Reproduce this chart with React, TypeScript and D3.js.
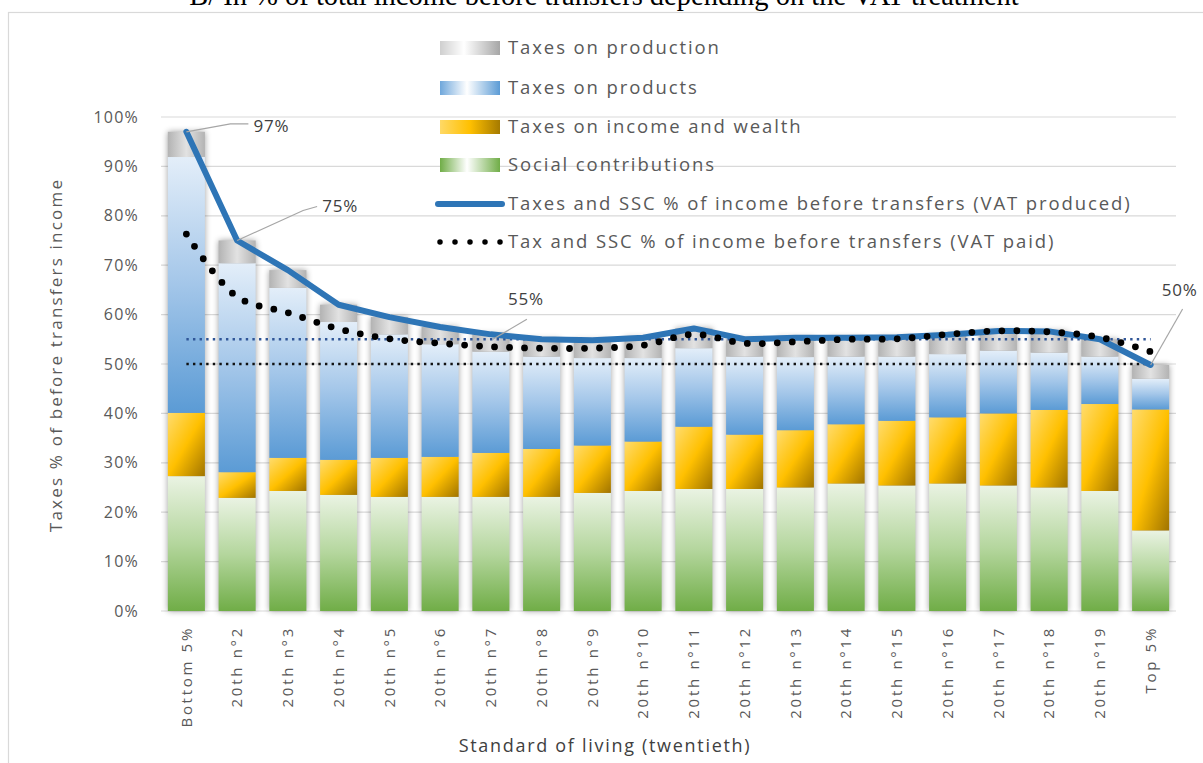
import React from 'react';
import * as d3 from 'd3';

// ---------- data ----------
const categories = [
  'Bottom 5%', '20th n°2', '20th n°3', '20th n°4', '20th n°5', '20th n°6', '20th n°7',
  '20th n°8', '20th n°9', '20th n°10', '20th n°11', '20th n°12', '20th n°13', '20th n°14',
  '20th n°15', '20th n°16', '20th n°17', '20th n°18', '20th n°19', 'Top 5%',
];
const socialContributions = [27.3, 22.9, 24.3, 23.5, 23.1, 23.1, 23.1, 23.1, 23.9, 24.3, 24.7, 24.7, 25.0, 25.8, 25.4, 25.8, 25.4, 25.0, 24.3, 16.3];
const taxesIncomeWealth = [12.8, 5.2, 6.7, 7.1, 7.9, 8.1, 8.9, 9.7, 9.6, 10.0, 12.6, 11.0, 11.6, 12.0, 13.1, 13.4, 14.6, 15.7, 17.6, 24.5];
const taxesProducts = [51.8, 42.3, 34.4, 27.9, 25.0, 22.8, 20.5, 18.7, 17.7, 16.9, 15.9, 15.8, 14.8, 13.7, 13.0, 12.8, 12.7, 11.6, 9.6, 6.2];
const taxesProduction = [5.1, 4.6, 3.6, 3.5, 3.5, 3.5, 3.5, 3.5, 3.6, 4.1, 4.0, 3.5, 3.9, 3.8, 3.9, 3.9, 4.0, 4.3, 3.5, 2.8];
const vatProduced = [97, 75, 69, 62, 59.5, 57.5, 56, 55, 54.8, 55.3, 57.2, 55, 55.3, 55.3, 55.4, 55.9, 56.7, 56.6, 55.0, 49.8];
const vatPaid = [76.3, 63.6, 60.4, 57.1, 55.1, 54.2, 53.5, 53.2, 53.2, 53.8, 56.0, 54.2, 54.5, 55.0, 55.1, 56.0, 56.7, 56.5, 55.4, 52.5];
const refProduced = 55;
const refPaid = 50;
const yTicks = [0, 10, 20, 30, 40, 50, 60, 70, 80, 90, 100];
const seriesNames = [
  'Taxes on production',
  'Taxes on products',
  'Taxes on income and wealth',
  'Social contributions',
  'Taxes and SSC % of income before transfers (VAT produced)',
  'Tax and SSC % of income before transfers (VAT paid)',
];
const titleText = 'B/ In % of total income before transfers depending on the VAT treatment';
const yTitle = 'Taxes % of before transfers income';
const xTitle = 'Standard of living (twentieth)';

// ---------- layout ----------
const W = 1203;
const H = 763;
const plot = { left: 161, right: 1176, top: 117, bottom: 611 };
const FONT = "'Open Sans', 'Noto Sans', sans-serif";

const keys = ['social', 'income', 'products', 'production'];
const gradIds: Record<string, string> = {
  social: 'gGreen',
  income: 'gYellow',
  products: 'gBlue',
  production: 'gGray',
};

export default function App() {
  const x = d3.scaleBand<string>().domain(categories).range([plot.left, plot.right]).paddingInner(0.27).paddingOuter(0.135);
  const y = d3.scaleLinear().domain([0, 100]).range([plot.bottom, plot.top]);
  const cx = (i: number) => (x(categories[i]) as number) + x.bandwidth() / 2;

  const table = categories.map((c, i) => ({
    cat: c,
    social: socialContributions[i],
    income: taxesIncomeWealth[i],
    products: taxesProducts[i],
    production: taxesProduction[i],
  }));
  const stacked = d3.stack<any>().keys(keys)(table);
  const totals = table.map((d) => d.social + d.income + d.products + d.production);

  const lineProduced = d3.line<number>().x((_, i) => cx(i)).y((v) => y(v)).curve(d3.curveLinear)(vatProduced) as string;
  const linePaid = d3.line<number>().x((_, i) => cx(i)).y((v) => y(v)).curve(d3.curveCatmullRom.alpha(0.5))(vatPaid) as string;

  const fmt = (v: number) => `${Math.round(v)}%`;
  const labels = [
    { ax: cx(0), ay: y(vatProduced[0]), text: fmt(vatProduced[0]), pts: [[44, -8], [62, -8]], tx: 85, ty: -6 },
    { ax: cx(1), ay: y(vatProduced[1]), text: fmt(vatProduced[1]), pts: [[66, -30], [80, -34]], tx: 103, ty: -34 },
    { ax: cx(6) + 2, ay: y(refProduced), text: fmt(refProduced), pts: [[34, -20]], tx: 33, ty: -40 },
    { ax: cx(19), ay: y(vatProduced[19]), text: fmt(vatProduced[19]), pts: [[32, -56]], tx: 29, ty: -75 },
  ];

  const legendX = 440;
  const legendRows = [48, 88, 127, 165, 204, 242];
  const swatchGrads = ['lgGray', 'lgBlue', 'lgYellow', 'lgGreen'];

  return (
    <div style={{ position: 'absolute', left: 0, top: 0 }}>
      <svg width={W} height={H} style={{ display: 'block', background: '#fff' }}>
        <defs>
          <linearGradient id="gGreen" x1="0" y1="0" x2="0" y2="1">
            <stop offset="0" stopColor="#eaf3e3" />
            <stop offset="0.5" stopColor="#b4d69d" />
            <stop offset="1" stopColor="#70ad47" />
          </linearGradient>
          <linearGradient id="gBlue" x1="0" y1="0" x2="0" y2="1">
            <stop offset="0" stopColor="#e3eef9" />
            <stop offset="0.5" stopColor="#a3c6e9" />
            <stop offset="1" stopColor="#5b9bd5" />
          </linearGradient>
          <linearGradient id="gYellow" x1="0" y1="0" x2="1" y2="1">
            <stop offset="0" stopColor="#ffdc6e" />
            <stop offset="0.5" stopColor="#ffc000" />
            <stop offset="1" stopColor="#a07400" />
          </linearGradient>
          <linearGradient id="gGray" x1="0" y1="0" x2="1" y2="0">
            <stop offset="0" stopColor="#b3b3b3" />
            <stop offset="0.5" stopColor="#e2e2e2" />
            <stop offset="1" stopColor="#b3b3b3" />
          </linearGradient>
          <linearGradient id="lgGray" x1="0" y1="0" x2="1" y2="0">
            <stop offset="0" stopColor="#cfcfcf" />
            <stop offset="0.4" stopColor="#ffffff" />
            <stop offset="1" stopColor="#a6a6a6" />
          </linearGradient>
          <linearGradient id="lgBlue" x1="0" y1="0" x2="1" y2="0">
            <stop offset="0" stopColor="#6fa7db" />
            <stop offset="0.45" stopColor="#ffffff" />
            <stop offset="1" stopColor="#5b9bd5" />
          </linearGradient>
          <linearGradient id="lgYellow" x1="0" y1="0" x2="1" y2="0">
            <stop offset="0" stopColor="#ffd966" />
            <stop offset="0.5" stopColor="#ffc000" />
            <stop offset="1" stopColor="#a57a00" />
          </linearGradient>
          <linearGradient id="lgGreen" x1="0" y1="0" x2="1" y2="0">
            <stop offset="0" stopColor="#70ad47" />
            <stop offset="0.45" stopColor="#ffffff" />
            <stop offset="1" stopColor="#70ad47" />
          </linearGradient>
          <filter id="shadow" x="-50%" y="-10%" width="200%" height="120%">
            <feGaussianBlur stdDeviation="3" />
          </filter>
        </defs>

        {/* document title (cut off above the chart frame, as in the source page) */}
        <text x={604} y={5} textAnchor="middle" fontFamily="'Liberation Serif', 'Times New Roman', serif" fontSize={28.5} fill="#000">
          {titleText}
        </text>

        {/* chart frame */}
        <rect x={8.5} y={12.5} width={1220} height={780} fill="#fff" stroke="#d9d9d9" strokeWidth={1.2} />

        {/* gridlines */}
        {yTicks.map((t) => (
          <line key={t} x1={plot.left} x2={plot.right} y1={y(t)} y2={y(t)} stroke="#d9d9d9" strokeWidth={1.2} />
        ))}

        {/* y tick labels */}
        {yTicks.map((t) => (
          <text key={'yl' + t} x={139} y={y(t)} dy="0.35em" textAnchor="end" fontFamily={FONT} fontSize={16} letterSpacing={1.2} fill="#595959">
            {t}%
          </text>
        ))}

        {/* bar shadows */}
        {categories.map((c, i) => (
          <rect key={'sh' + c} x={x(c)} y={y(totals[i])} width={x.bandwidth()} height={plot.bottom - y(totals[i])} fill="#000" opacity={0.38} filter="url(#shadow)" />
        ))}

        {/* stacked bars */}
        {stacked.map((s) => (
          <g key={s.key} fill={`url(#${gradIds[s.key]})`}>
            {s.map((d: any, i: number) => (
              <rect key={i} x={x(categories[i])} y={y(d[1])} width={x.bandwidth()} height={y(d[0]) - y(d[1])} />
            ))}
          </g>
        ))}

        {/* reference lines */}
        <line x1={cx(0)} x2={cx(19)} y1={y(refProduced)} y2={y(refProduced)} stroke="#2f5597" strokeWidth={2.4} strokeDasharray="2.4 4.2" />
        <line x1={cx(0)} x2={cx(19)} y1={y(refPaid)} y2={y(refPaid)} stroke="#111" strokeWidth={2.4} strokeDasharray="2.4 4.2" />

        {/* VAT produced line */}
        <path d={lineProduced} fill="none" stroke="#2e75b6" strokeWidth={6} strokeLinejoin="round" strokeLinecap="round" />
        {/* VAT paid dotted line */}
        <path d={linePaid} fill="none" stroke="#000" strokeWidth={6.8} strokeDasharray="0 15" strokeLinecap="round" />

        {/* data labels */}
        {labels.map((l, k) => {
          const pts = [[0, 0], ...l.pts].map(([dx, dy]) => [l.ax + dx, l.ay + dy] as [number, number]);
          return (
            <g key={'lab' + k}>
              <path d={d3.line()(pts) as string} fill="none" stroke="#a6a6a6" strokeWidth={1.2} />
              <text x={l.ax + l.tx} y={l.ay + l.ty} dy="0.35em" textAnchor="middle" fontFamily={FONT} fontSize={17} letterSpacing={0.8} fill="#404040">
                {l.text}
              </text>
            </g>
          );
        })}

        {/* x tick labels */}
        {categories.map((c, i) => (
          <text key={'xl' + c} transform={`translate(${cx(i)},626) rotate(-90)`} textAnchor="end" dy="0.35em" fontFamily={FONT} fontSize={15} letterSpacing={2.7} fill="#595959">
            {c}
          </text>
        ))}

        {/* axis titles */}
        <text transform={`translate(56,355) rotate(-90)`} textAnchor="middle" dy="0.35em" fontFamily={FONT} fontSize={17} letterSpacing={2.2} fill="#595959">
          {yTitle}
        </text>
        <text x={605} y={746} textAnchor="middle" dy="0.35em" fontFamily={FONT} fontSize={18} letterSpacing={1.7} fill="#404040">
          {xTitle}
        </text>

        {/* legend */}
        {swatchGrads.map((g, k) => (
          <rect key={g} x={legendX} y={legendRows[k] - 7} width={60} height={14} fill={`url(#${g})`} />
        ))}
        <line x1={legendX - 2} x2={legendX + 62} y1={legendRows[4]} y2={legendRows[4]} stroke="#2e75b6" strokeWidth={6} strokeLinecap="round" />
        <line x1={legendX} x2={legendX + 62} y1={legendRows[5]} y2={legendRows[5]} stroke="#000" strokeWidth={5.5} strokeDasharray="0 15" strokeLinecap="round" />
        {seriesNames.map((n, k) => (
          <text key={n} x={508} y={legendRows[k]} dy="0.35em" fontFamily={FONT} fontSize={18.5} letterSpacing={1.9} fill="#595959">
            {n}
          </text>
        ))}
      </svg>
    </div>
  );
}
